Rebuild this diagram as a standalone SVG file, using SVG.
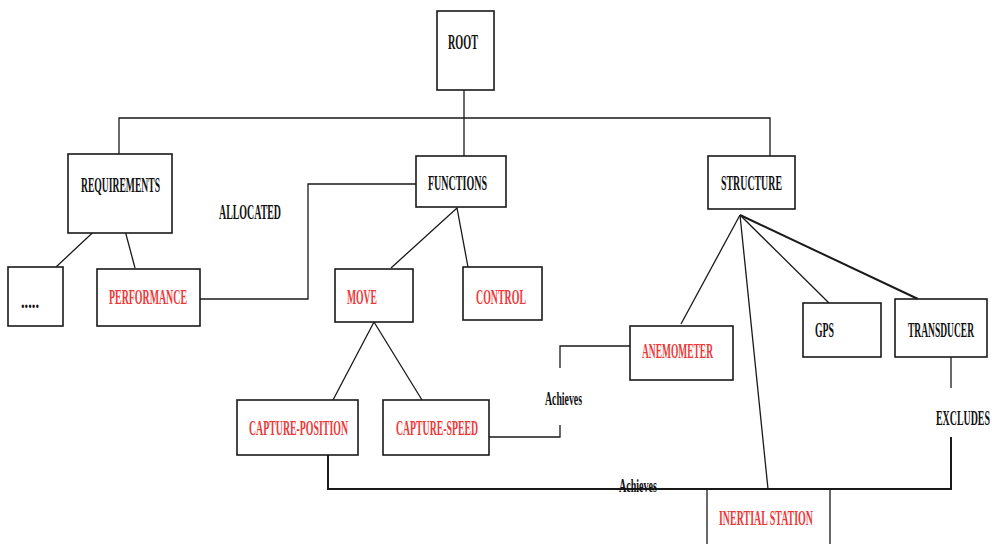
<svg xmlns="http://www.w3.org/2000/svg" width="992" height="544" viewBox="0 0 992 544">
  <style>
    .box { fill: #ffffff; stroke: #1a1a1a; stroke-width: 1.6; }
    .ln { fill: none; stroke: #1a1a1a; stroke-width: 1.3; }
    .thick { stroke-width: 2; }
    .lbl { font-family: "Liberation Serif", "Times New Roman", serif; font-size: 21px; font-weight: bold; fill: #111111; }
    .red { fill: #ee3838; }
    .small { font-size: 18px; }
  </style>
  <rect width="992" height="544" fill="#ffffff"/>

  <g id="connectors">
    <!-- root fan-out -->
    <polyline class="ln" points="119,154 119,118 770,118 770,156"/>
    <line class="ln" x1="464" y1="90" x2="464" y2="156"/>
    <!-- requirements children -->
    <polyline class="ln" points="56,267 119,208 135,268"/>
    <!-- functions children -->
    <polyline class="ln" points="391,268 457,208 468,267"/>
    <!-- move children -->
    <polyline class="ln" points="333,400 374,322 422,400"/>
    <!-- structure children -->
    <line class="ln" x1="740" y1="215" x2="681" y2="324"/>
    <line class="ln" x1="740" y1="215" x2="768" y2="489"/>
    <line class="ln" x1="740" y1="215" x2="829" y2="303"/>
    <line class="ln thick" x1="740" y1="215" x2="918" y2="299"/>
    <!-- allocated link -->
    <polyline class="ln" points="416,184 308,184 308,299 200,299"/>
    <!-- achieves: capture-speed to anemometer -->
    <polyline class="ln" points="489,437 560,437 560,425"/>
    <polyline class="ln" points="560,368 560,346 632,346"/>
    <!-- excludes / achieves bottom link -->
    <line class="ln" x1="951" y1="357" x2="951" y2="388"/>
    <polyline class="ln thick" points="951,437 951,489 328,489 328,455"/>
  </g>

  <!-- labels use a half-width serif: scale(0.5,1) with textLength = 2 x printed width -->
  <g id="root">
    <rect class="box" x="437" y="11" width="57" height="79"/>
    <text class="lbl" transform="translate(448,49) scale(0.5,1)" textLength="60" lengthAdjust="spacingAndGlyphs">ROOT</text>
  </g>

  <g id="requirements">
    <rect class="box" x="68" y="154" width="104" height="79"/>
    <text class="lbl" transform="translate(81,192) scale(0.5,1)" textLength="158" lengthAdjust="spacingAndGlyphs">REQUIREMENTS</text>
  </g>

  <g id="functions">
    <rect class="box" x="416" y="156" width="90" height="51"/>
    <text class="lbl" transform="translate(428,190) scale(0.5,1)" textLength="118" lengthAdjust="spacingAndGlyphs">FUNCTIONS</text>
  </g>

  <g id="structure">
    <rect class="box" x="708" y="156" width="87" height="53"/>
    <text class="lbl" transform="translate(721,190) scale(0.5,1)" textLength="122" lengthAdjust="spacingAndGlyphs">STRUCTURE</text>
  </g>

  <g id="allocated-label">
    <text class="lbl" transform="translate(219,219) scale(0.5,1)" textLength="124" lengthAdjust="spacingAndGlyphs">ALLOCATED</text>
  </g>

  <g id="more">
    <rect class="box" x="8" y="267" width="55" height="59"/>
    <text class="lbl" transform="translate(21,308) scale(0.5,1)" textLength="36" lengthAdjust="spacingAndGlyphs">.....</text>
  </g>

  <g id="performance">
    <rect class="box" x="97" y="269" width="103" height="57"/>
    <text class="lbl red" transform="translate(109,304) scale(0.5,1)" textLength="156" lengthAdjust="spacingAndGlyphs">PERFORMANCE</text>
  </g>

  <g id="move">
    <rect class="box" x="335" y="269" width="78" height="53"/>
    <text class="lbl red" transform="translate(347,304) scale(0.5,1)" textLength="60" lengthAdjust="spacingAndGlyphs">MOVE</text>
  </g>

  <g id="control">
    <rect class="box" x="463" y="267" width="79" height="53"/>
    <text class="lbl red" transform="translate(476,304) scale(0.5,1)" textLength="100" lengthAdjust="spacingAndGlyphs">CONTROL</text>
  </g>

  <g id="anemometer">
    <rect class="box" x="630" y="326" width="103" height="54"/>
    <text class="lbl red" transform="translate(642,358) scale(0.5,1)" textLength="142" lengthAdjust="spacingAndGlyphs">ANEMOMETER</text>
  </g>

  <g id="gps">
    <rect class="box" x="803" y="303" width="78" height="54"/>
    <text class="lbl" transform="translate(815,337) scale(0.5,1)" textLength="38" lengthAdjust="spacingAndGlyphs">GPS</text>
  </g>

  <g id="transducer">
    <rect class="box" x="895" y="299" width="92" height="58"/>
    <text class="lbl" transform="translate(908,337) scale(0.5,1)" textLength="132" lengthAdjust="spacingAndGlyphs">TRANSDUCER</text>
  </g>

  <g id="capture-position">
    <rect class="box" x="237" y="400" width="121" height="55"/>
    <text class="lbl red" transform="translate(249,435) scale(0.5,1)" textLength="198" lengthAdjust="spacingAndGlyphs">CAPTURE-POSITION</text>
  </g>

  <g id="capture-speed">
    <rect class="box" x="383" y="400" width="106" height="55"/>
    <text class="lbl red" transform="translate(396,435) scale(0.5,1)" textLength="164" lengthAdjust="spacingAndGlyphs">CAPTURE-SPEED</text>
  </g>

  <g id="achieves-upper">
    <text class="lbl small" transform="translate(545,405) scale(0.5,1)" textLength="74" lengthAdjust="spacingAndGlyphs">Achieves</text>
  </g>

  <g id="excludes-label">
    <text class="lbl" transform="translate(936,425) scale(0.5,1)" textLength="108" lengthAdjust="spacingAndGlyphs">EXCLUDES</text>
  </g>

  <g id="inertial-station">
    <polyline class="ln" points="707,548 707,489 830,489 830,548"/>
    <text class="lbl red" transform="translate(719,525) scale(0.5,1)" textLength="188" lengthAdjust="spacingAndGlyphs">INERTIAL STATION</text>
  </g>

  <g id="achieves-lower">
    <text class="lbl small" transform="translate(619,492) scale(0.5,1)" textLength="76" lengthAdjust="spacingAndGlyphs">Achieves</text>
  </g>
</svg>
